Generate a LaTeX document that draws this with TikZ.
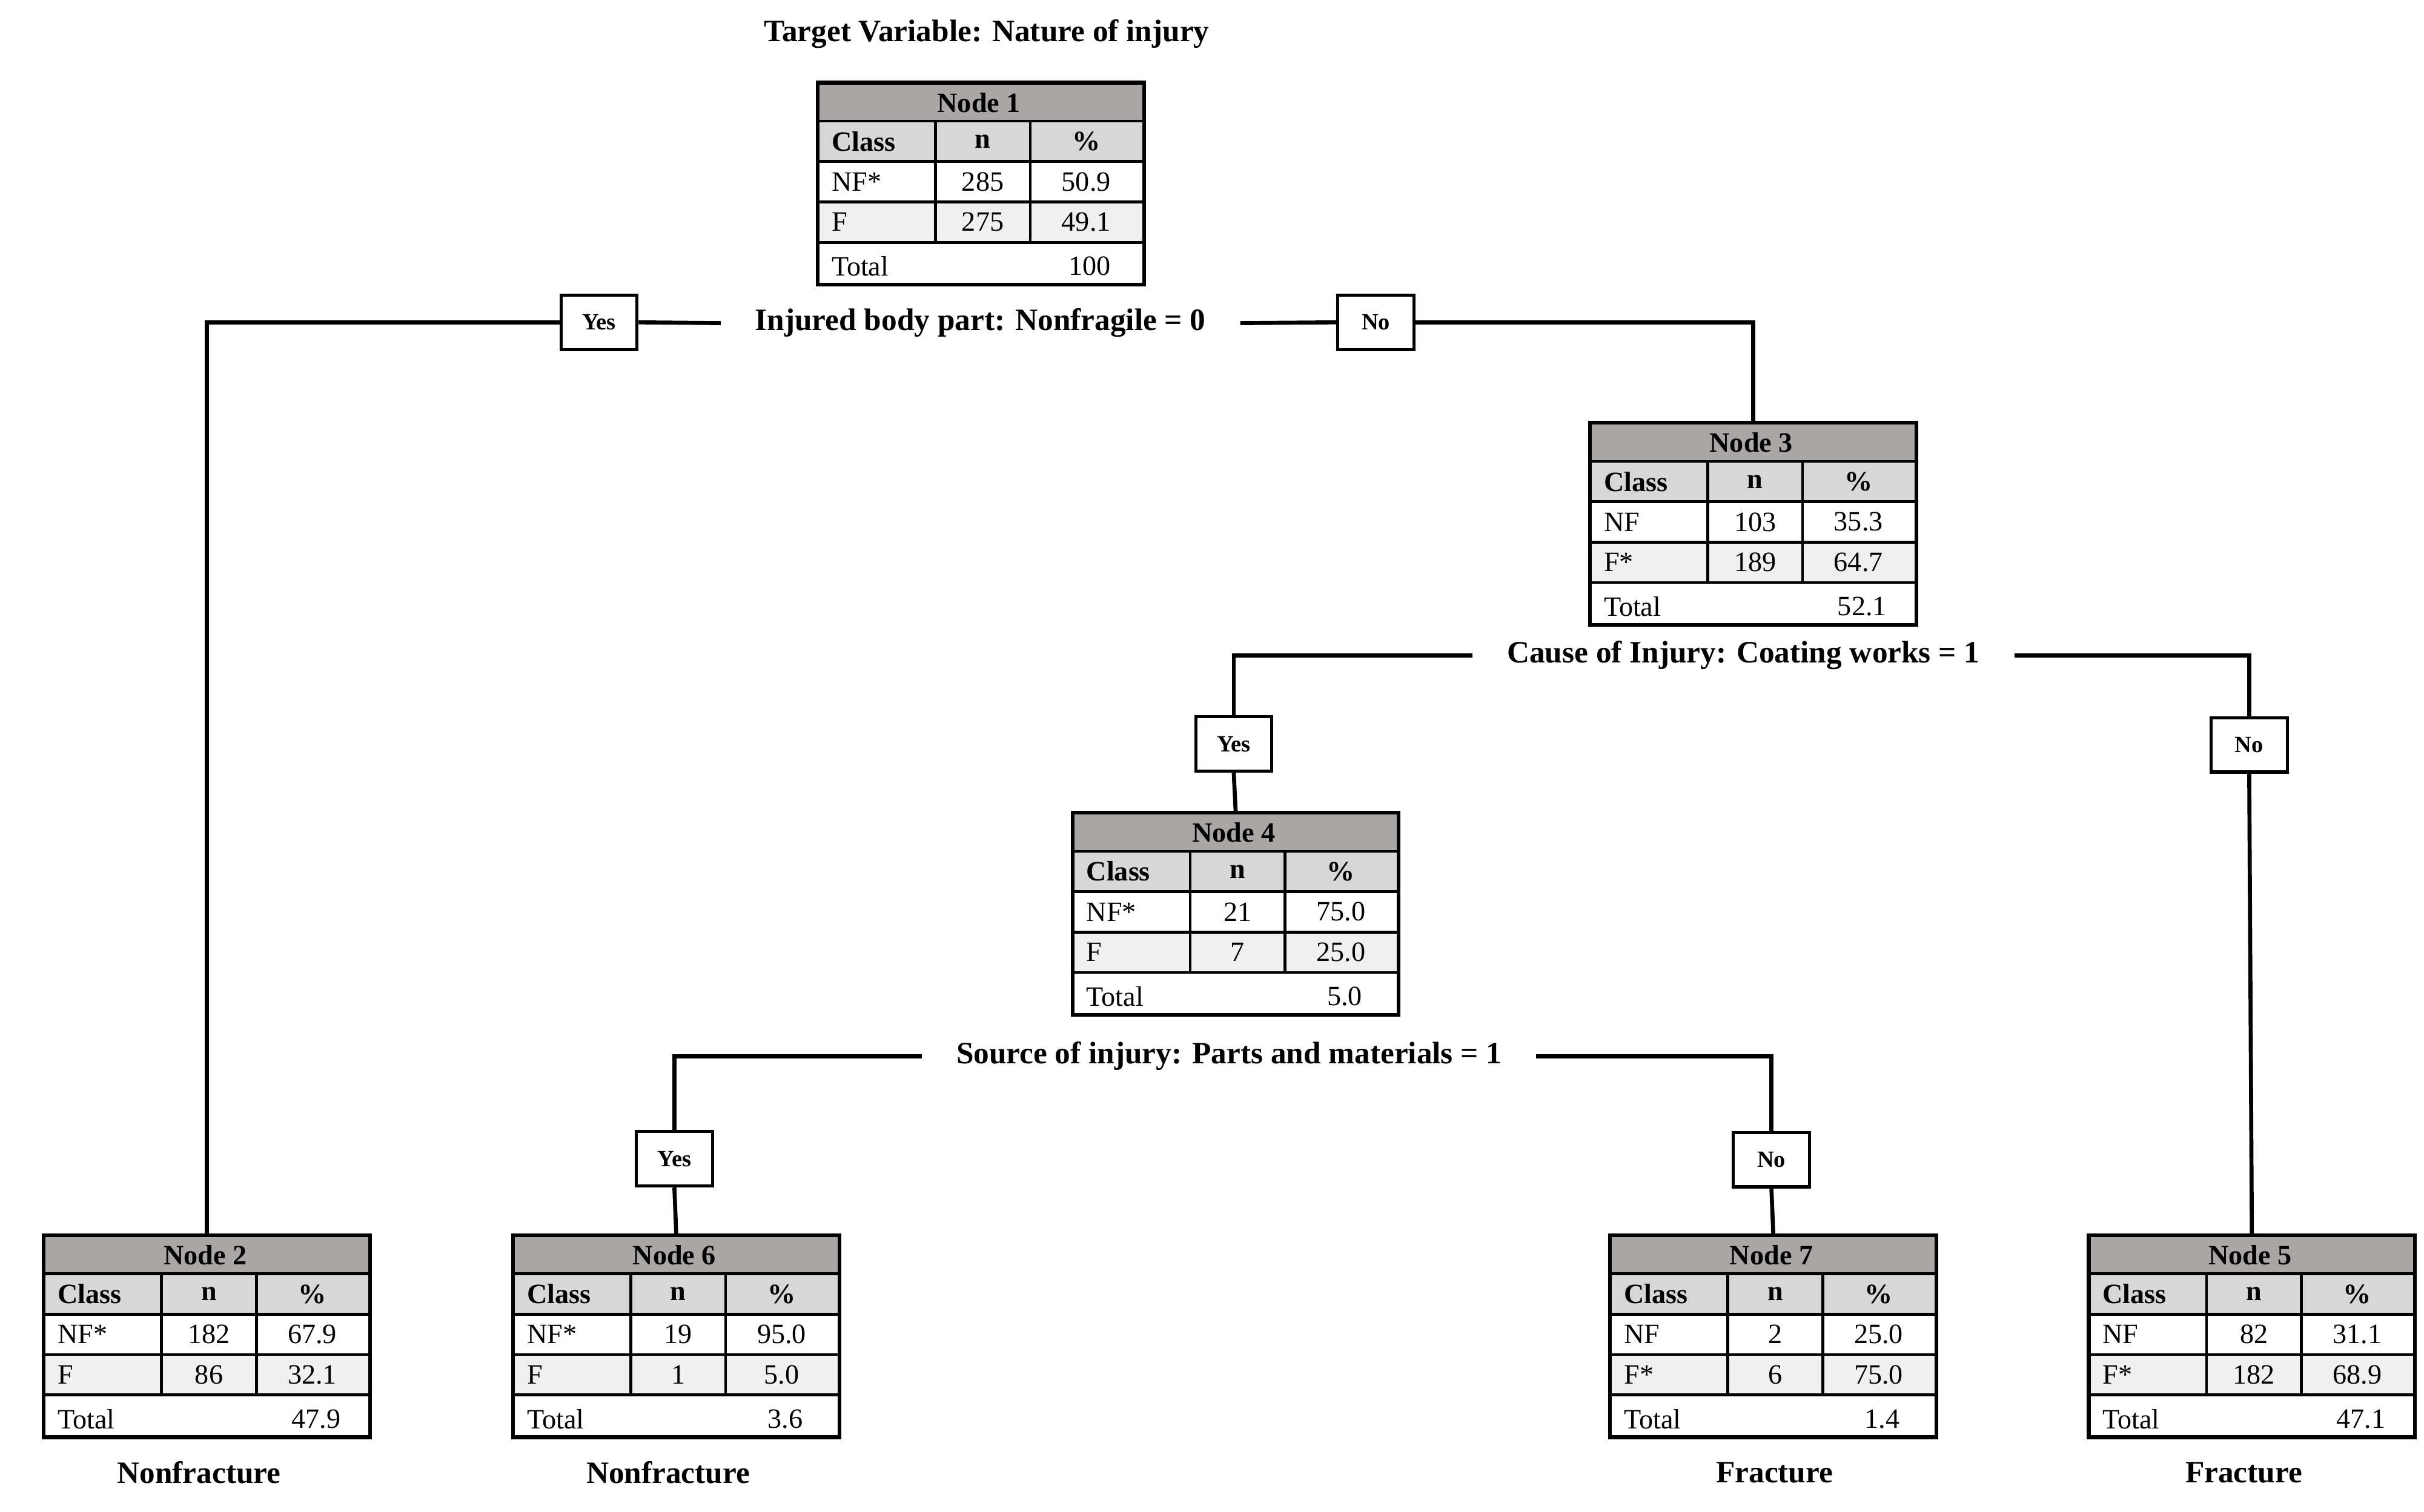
\documentclass[tikz,border=0pt]{standalone}
\usepackage{fontspec}
\setmainfont{Liberation Serif}
\definecolor{hdr}{RGB}{170,166,166}
\definecolor{crow}{RGB}{215,215,215}
\definecolor{frow}{RGB}{240,240,240}
\tikzset{
 lbl/.style={font=\fontsize{20}{24}\selectfont\bfseries, inner xsep=22pt, inner ysep=2pt},
 yn/.style={draw, line width=2pt, fill=white, font=\fontsize{15}{18}\selectfont\bfseries, minimum width=49pt, minimum height=35pt, inner sep=0pt},
 conn/.style={line width=2.6pt},
 tt/.style={font=\fontsize{18}{21}\selectfont, inner sep=0pt},
 leaf/.style={font=\fontsize{20}{24}\selectfont\bfseries}
}
\newcommand\dtable[9]{%
\begin{scope}[shift={(#2)}]
 \fill[hdr] (0,0) rectangle (210,-26);
 \fill[crow] (0,-26) rectangle (210,-52);
 \fill[white] (0,-52) rectangle (210,-78);
 \fill[frow] (0,-78) rectangle (210,-104);
 \fill[white] (0,-104) rectangle (210,-130);
 \draw[line width=1.8pt] (0,-26)--(210,-26) (0,-52)--(210,-52) (0,-78)--(210,-78) (0,-104)--(210,-104)
   (77,-26)--(77,-104) (138,-26)--(138,-104);
 \node[name=#1, draw, line width=2.4pt, minimum width=210pt, minimum height=130pt, anchor=north west, inner sep=0pt] at (0,0) {};
 \node[tt,font=\fontsize{18}{21}\selectfont\bfseries] at (105,-14) {#3};
 \node[tt,font=\fontsize{18}{21}\selectfont\bfseries,anchor=west] at (10,-39) {Class};
 \node[tt,font=\fontsize{18}{21}\selectfont\bfseries] at (107.5,-39) {n};
 \node[tt,font=\fontsize{18}{21}\selectfont\bfseries] at (174,-39) {\%};
 \node[tt,anchor=west] at (10,-65) {#4};
 \node[tt] at (107.5,-65) {#5};
 \node[tt] at (174,-65) {#6};
 \node[tt,anchor=west] at (10,-91) {#7};
 \node[tt] at (107.5,-91) {#8};
 \node[tt] at (174,-91) {#9};
\end{scope}}
\newcommand\dtotal[2]{\node[tt,anchor=west] at ([shift={(10,13)}]#1.south west) {Total};
 \node[tt] at ([shift={(-36,13)}]#1.south east) {#2};}
\begin{document}
\begin{tikzpicture}[x=1pt,y=1pt]
\useasboundingbox[fill=white] (0,0) rectangle (1560,-973);
\node[lbl,inner xsep=0pt] (title) at (635,-22) {Target Variable: Nature of injury};
\dtable{n1}{525,-52}{Node 1}{NF*}{285}{50.9}{F}{275}{49.1}\dtotal{n1}{100}
\dtable{n3}{1022,-271}{Node 3}{NF}{103}{35.3}{F*}{189}{64.7}\dtotal{n3}{52.1}
\dtable{n4}{689,-522}{Node 4}{NF*}{21}{75.0}{F}{7}{25.0}\dtotal{n4}{5.0}
\dtable{n2}{27,-794}{Node 2}{NF*}{182}{67.9}{F}{86}{32.1}\dtotal{n2}{47.9}
\dtable{n6}{329,-794}{Node 6}{NF*}{19}{95.0}{F}{1}{5.0}\dtotal{n6}{3.6}
\dtable{n7}{1035,-794}{Node 7}{NF}{2}{25.0}{F*}{6}{75.0}\dtotal{n7}{1.4}
\dtable{n5}{1343,-794}{Node 5}{NF}{82}{31.1}{F*}{182}{68.9}\dtotal{n5}{47.1}
\node[lbl] (s1) at (631,-208) {Injured body part: Nonfragile = 0};
\node[lbl] (s2) at (1122,-422) {Cause of Injury: Coating works = 1};
\node[lbl] (s3) at (791,-680) {Source of injury: Parts and materials = 1};
\node[yn] (y1) at (385.5,-207.5) {Yes};
\node[yn] (no1) at (885.5,-207.5) {No};
\node[yn] (y2) at (794,-479) {Yes};
\node[yn] (no2) at (1447.5,-479.5) {No};
\node[yn] (y3) at (434,-746) {Yes};
\node[yn] (no3) at (1140,-746.5) {No};
\draw[conn] (s1.west) -- (y1.east);
\draw[conn] (y1.west) -| (n2.north);
\draw[conn] (s1.east) -- (no1.west);
\draw[conn] (no1.east) -| (n3.north);
\draw[conn] (s2.west) -| (y2.north);
\draw[conn] (y2.south) -- (n4.north);
\draw[conn] (s2.east) -| (no2.north);
\draw[conn] (no2.south) -- (n5.north);
\draw[conn] (s3.west) -| (y3.north);
\draw[conn] (y3.south) -- (n6.north);
\draw[conn] (s3.east) -| (no3.north);
\draw[conn] (no3.south) -- (n7.north);
\node[leaf] (l2) at (128,-948) {Nonfracture};
\node[leaf] (l6) at (430,-948) {Nonfracture};
\node[leaf] (l7) at (1142,-948) {Fracture};
\node[leaf] (l5) at (1444,-948) {Fracture};
\end{tikzpicture}
\end{document}
